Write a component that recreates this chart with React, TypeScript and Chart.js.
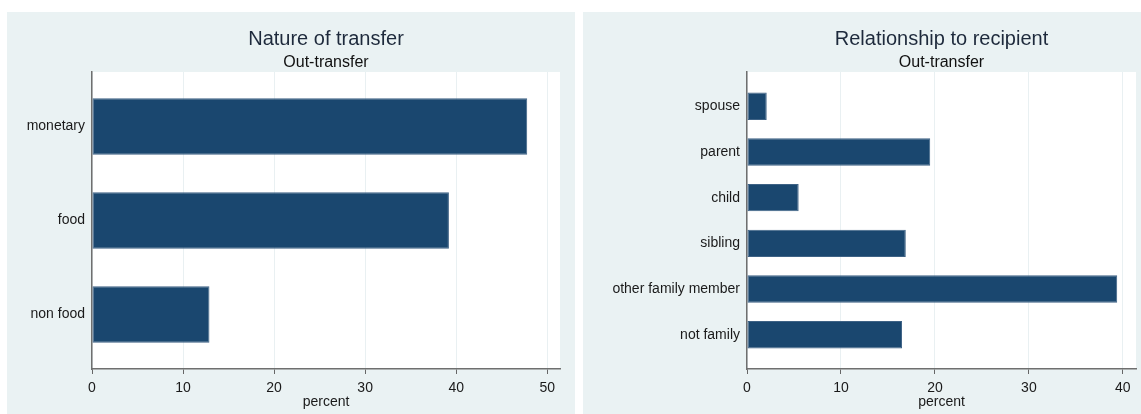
import React, { useEffect, useRef } from "react";
import { Chart, registerables } from "chart.js";

Chart.register(...registerables);

const natureCategories = ["monetary", "food", "non food"];
const natureValues = [47.8, 39.2, 12.9];
const natureTicks = [0, 10, 20, 30, 40, 50];

const relationCategories = ["spouse", "parent", "child", "sibling", "other family member", "not family"];
const relationValues = [2.1, 19.5, 5.5, 16.9, 39.4, 16.5];
const relationTicks = [0, 10, 20, 30, 40];

const PANEL_BG = "#eaf2f3";
const BAR = "#1a476f";
const FONT = "'Liberation Sans', Arial, sans-serif";

type PanelProps = {
  title: string;
  subtitle: string;
  categories: string[];
  values: number[];
  ticks: number[];
  xMax: number;
  yPad: number;
  yWidth: number;
  rightPad: number;
  width: number;
  height: number;
  left: number;
  top: number;
};

function Panel(p: PanelProps) {
  const ref = useRef<HTMLCanvasElement | null>(null);
  useEffect(() => {
    if (!ref.current) return;
    const bgPlugin = {
      id: "bg",
      beforeDraw(chart: any) {
        const { ctx, chartArea } = chart;
        ctx.save();
        ctx.fillStyle = PANEL_BG;
        ctx.fillRect(0, 0, chart.width, chart.height);
        ctx.fillStyle = "#ffffff";
        ctx.fillRect(chartArea.left, chartArea.top, chartArea.right - chartArea.left, chartArea.bottom - chartArea.top);
        ctx.restore();
      },
      afterDraw(chart: any) {
        const { ctx, chartArea } = chart;
        const cx = (chartArea.left + chartArea.right) / 2;
        ctx.save();
        ctx.textAlign = "center";
        ctx.textBaseline = "middle";
        ctx.fillStyle = "#1e2a3c";
        ctx.font = `20px ${FONT}`;
        ctx.fillText(p.title, cx, 27.5);
        ctx.fillStyle = "#111111";
        ctx.font = `16px ${FONT}`;
        ctx.fillText(p.subtitle, cx, 51);
        ctx.restore();
      },
    };
    const chart = new Chart(ref.current, {
      type: "bar",
      data: {
        datasets: [
          {
            data: p.values.map((v, i) => ({ x: v, y: i })),
            backgroundColor: BAR,
            borderColor: "#3e6285",
            borderWidth: 1,
            borderSkipped: false,
            barPercentage: 0.6,
            categoryPercentage: 1,
          },
        ],
      },
      options: {
        animation: false,
        responsive: false,
        indexAxis: "y",
        layout: { padding: { top: 60, right: p.rightPad, left: 0, bottom: 0 } },
        plugins: { legend: { display: false }, tooltip: { enabled: false }, title: { display: false } },
        scales: {
          x: {
            type: "linear",
            min: 0,
            max: p.xMax,
            offset: false,
            afterBuildTicks: (scale: any) => {
              scale.ticks = p.ticks.map((v) => ({ value: v }));
            },
            afterFit: (scale: any) => {
              scale.height = 45;
            },
            grid: { color: "#e9f0f2", lineWidth: 1, tickLength: 5, tickColor: "#666666", drawTicks: true, offset: false },
            border: { color: "#6f6f6f", width: 1.5 },
            ticks: { font: { size: 14, family: FONT }, color: "#1a1a1a", padding: 6, maxRotation: 0 },
            title: { display: true, text: "percent", font: { size: 14, family: FONT, lineHeight: 1 }, color: "#1a1a1a", padding: { top: 0, bottom: 5 } },
          },
          y: {
            type: "linear",
            reverse: true,
            bounds: "data",
            offset: false,
            min: -p.yPad,
            max: p.categories.length - 1 + p.yPad,
            afterBuildTicks: (scale: any) => {
              scale.ticks = p.categories.map((_, i) => ({ value: i }));
            },
            afterFit: (scale: any) => {
              scale.width = p.yWidth;
            },
            grid: { display: false, drawTicks: false, offset: false },
            border: { color: "#6f6f6f", width: 1.5 },
            ticks: {
              font: { size: 14, family: FONT },
              color: "#1a1a1a",
              padding: 7,
              callback: (v: any) => p.categories[v as number] ?? "",
            },
          },
        },
      },
      plugins: [bgPlugin],
    } as any);
    return () => chart.destroy();
  }, []);
  return (
    <canvas
      ref={ref}
      width={p.width}
      height={p.height}
      style={{ position: "absolute", left: p.left, top: p.top, width: p.width, height: p.height }}
    />
  );
}

export default function App() {
  return (
    <div style={{ position: "absolute", left: 0, top: 0, width: 1141, height: 414, background: "#ffffff" }}>
      <Panel
        title="Nature of transfer"
        subtitle="Out-transfer"
        categories={natureCategories}
        values={natureValues}
        ticks={natureTicks}
        xMax={51.4}
        yPad={0.58}
        yWidth={85}
        rightPad={15}
        width={568}
        height={402}
        left={7}
        top={12}
      />
      <Panel
        title="Relationship to recipient"
        subtitle="Out-transfer"
        categories={relationCategories}
        values={relationValues}
        ticks={relationTicks}
        xMax={41.4}
        yPad={0.75}
        yWidth={164}
        rightPad={5}
        width={558}
        height={402}
        left={583}
        top={12}
      />
    </div>
  );
}
